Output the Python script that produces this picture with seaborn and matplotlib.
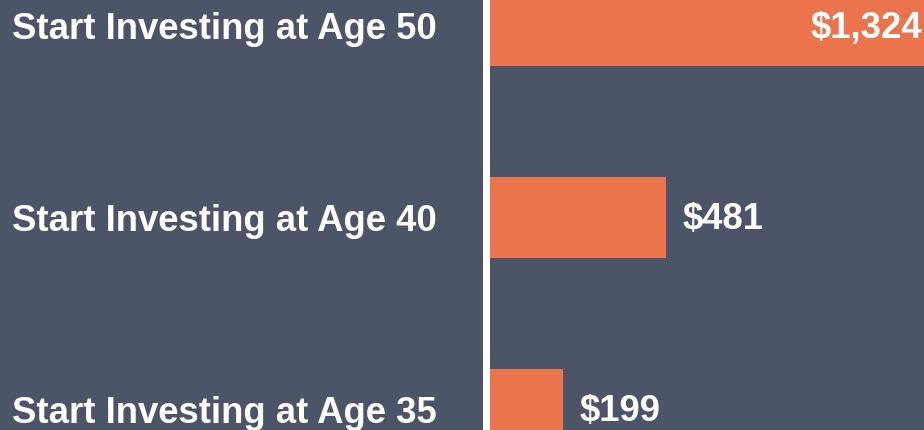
import matplotlib
matplotlib.use("Agg")
import matplotlib.pyplot as plt
import seaborn as sns
import pandas as pd
from matplotlib.patches import Rectangle

categories = ["Start Investing at Age 50", "Start Investing at Age 40", "Start Investing at Age 35"]
values = [1324, 481, 199]

BG = "#4B5567"
ORANGE = "#EC744D"
FONT = ["Liberation Sans", "DejaVu Sans"]
FS = 26.3

sns.set_style("white")
plt.rcParams["font.family"] = FONT

df = pd.DataFrame({"label": categories, "value": values})

fig = plt.figure(figsize=(9.24, 4.30), dpi=100, facecolor=BG)
W, H = 924, 430
ax = fig.add_axes([490 / W, 0, (W - 490) / W, 1])
ax.set_facecolor(BG)

sns.barplot(data=df, x="value", y="label", color=ORANGE, orient="h",
            width=81 / 192, saturation=1, linewidth=0, edgecolor="none", ax=ax)

ax.set_xlim(0, 1186)
ax.set_ylim(2.107, -0.133)
ax.set_xlabel("")
ax.set_ylabel("")
ax.set_xticks([])
for s in ax.spines.values():
    s.set_visible(False)

ax.tick_params(axis="y", length=0, pad=478 * 0.72)
for t in ax.get_yticklabels():
    t.set_horizontalalignment("left")
    t.set_color("white")
    t.set_fontweight("bold")
    t.set_fontsize(FS)

# white divider line
fig.add_artist(Rectangle((483 / W, 0), 7 / W, 1, transform=fig.transFigure,
                         facecolor="white", edgecolor="none"))

xmax = ax.get_xlim()[1]
for i, v in enumerate(values):
    txt = f"${v:,}"
    if v > xmax:
        ax.annotate(txt, (1.0, i), xycoords=ax.get_yaxis_transform(),
                    xytext=(-2 * 0.72, -2 * 0.72), textcoords="offset points",
                    ha="right", va="center", color="white", fontsize=FS, fontweight="bold")
    else:
        ax.annotate(txt, (v, i), xytext=(17 * 0.72, -2 * 0.72), textcoords="offset points",
                    ha="left", va="center", color="white", fontsize=FS, fontweight="bold")

fig.savefig("out.png", dpi=100, facecolor=BG)
